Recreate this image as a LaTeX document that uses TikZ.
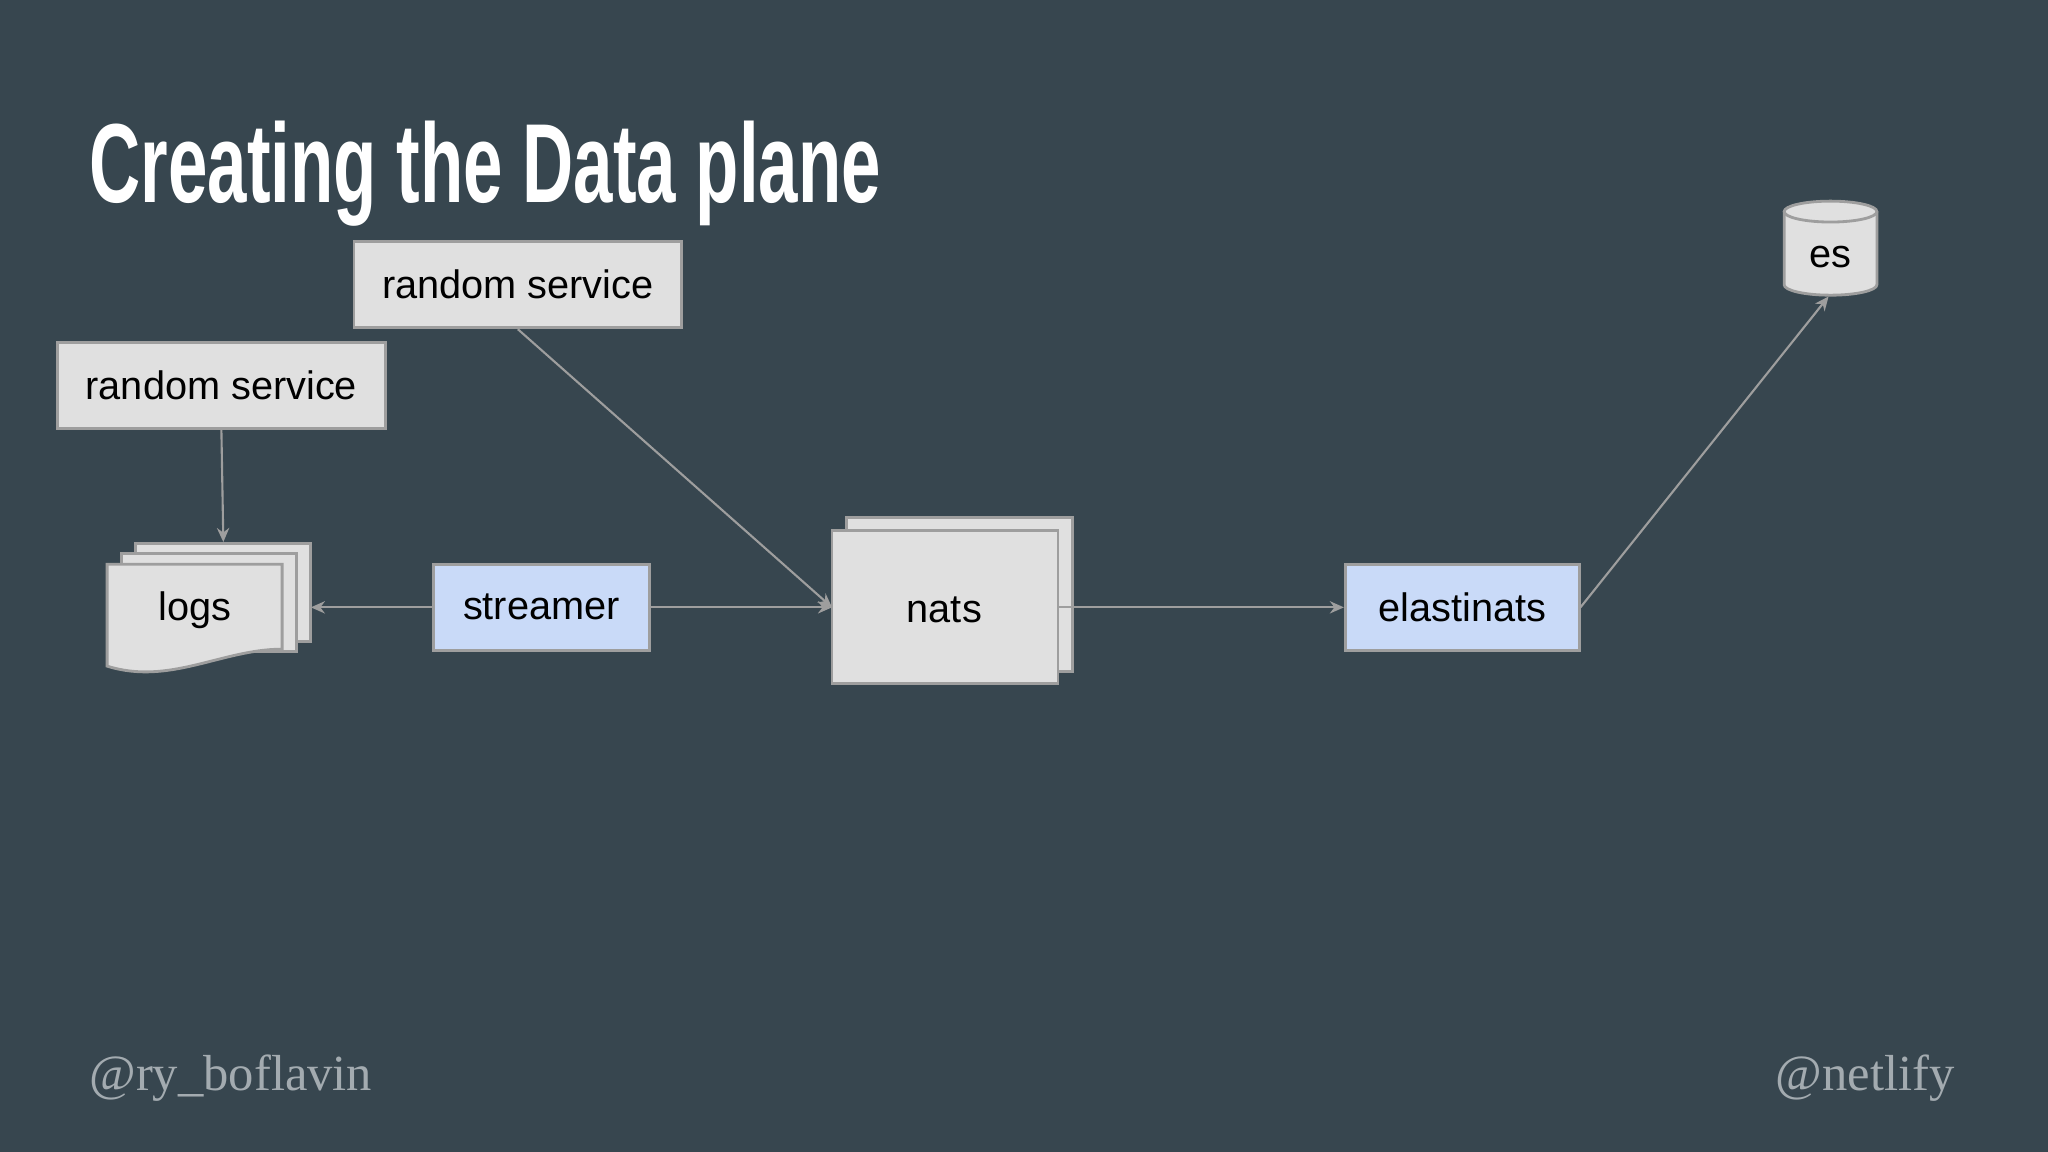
\documentclass[tikz,border=0pt]{standalone}
\usepackage{fontspec}
\setmainfont{Liberation Sans}
\newfontfamily\titlefont[FakeStretch=0.63]{Liberation Sans Bold}
\newfontfamily\footfont{Liberation Serif}
\usetikzlibrary{shapes.geometric,arrows.meta}
\definecolor{bg}{HTML}{37464F}
\definecolor{boxg}{HTML}{E0E0E0}
\definecolor{boxb}{HTML}{C9DAF8}
\definecolor{edge}{HTML}{9E9E9E}
\definecolor{foot}{HTML}{A3ABB0}
\tikzset{
  box/.style={draw=edge,line width=0.8pt,fill=boxg,minimum width=#1*0.01306cm,minimum height=66*0.01306cm,inner sep=0pt,font=\fontsize{11.3}{13}\selectfont},
  bbox/.style={box=#1,fill=boxb},
  conn/.style={draw=edge,line width=0.6pt,-{Stealth[length=4pt,width=3.5pt]}},
  shp/.style={draw=edge,line width=0.8pt,fill=boxg},
  lbl/.style={inner sep=0pt,font=\fontsize{11.3}{13}\selectfont}
}
\begin{document}
\begin{tikzpicture}[x=0.01306cm,y=-0.01306cm]
\fill[bg] (0,0) rectangle (1568,882);
\useasboundingbox (0,0) rectangle (1568,882);
\node[anchor=base west,text=white,inner sep=0pt,font=\titlefont\fontsize{32}{36}\selectfont] (title) at (68,155) {Creating the Data plane};
\node[box=251] (rs1) at (396.5,218) {\raisebox{-1pt}{random service}};
\node[box=251] (rs2) at (169.5,295) {\raisebox{-1pt}{random service}};
\node[bbox=165] (str) at (414.5,465) {\raisebox{-1pt}{streamer}};
\node[bbox=179] (ela) at (1119.5,465) {\raisebox{-1pt}{elastinats}};
% logs stack
\foreach \d in {22,11}{
 \path[shp] (82+\d,432-0.727*\d) -- (216+\d,432-0.727*\d) -- (216+\d,507-0.727*\d) -- (82+\d,507-0.727*\d) -- cycle;}
\path[shp] (82,432) -- (216,432) -- (216,497) .. controls (170,497) and (130,525) .. (82,510) -- cycle;
\node[lbl] (logs) at (149,467) {logs};
\coordinate (logsR) at (238,465);
\coordinate (logsT) at (171,415);
% nats
\path[shp] (648,396) rectangle (821,514);
\path[shp] (637,406) rectangle (810,523);
\node[lbl] (nats) at (723,467) {nats};
\coordinate (natsL) at (637,465);
\coordinate (natsR) at (810,465);
% es cylinder
\path[shp] (1366,162) -- (1366,218) arc[start angle=180,end angle=0,x radius=35.5,y radius=8] -- (1437,162);
\path[shp] (1401.5,162) ellipse[x radius=35.5,y radius=8];
\node[lbl] (es) at (1401.5,197) {es};
\coordinate (esB) at (1400,227);
% connectors
\draw[conn] (rs2.south) -- (logsT);
\draw[conn] (rs1.south) -- (natsL);
\draw[conn] (str.west) -- (logsR);
\draw[conn] (str.east) -- (natsL);
\draw[conn] (natsR) -- (ela.west);
\draw[conn] (ela.east) -- (esB);
% footer
\node[anchor=base west,inner sep=0pt,text=foot,font=\footfont\fontsize{14.4}{18}\selectfont] (f1) at (68,835) {@ry\_boflavin};
\node[anchor=base east,inner sep=0pt,text=foot,font=\footfont\fontsize{14.4}{18}\selectfont] (f2) at (1497,835) {@netlify};
\end{tikzpicture}
\end{document}
